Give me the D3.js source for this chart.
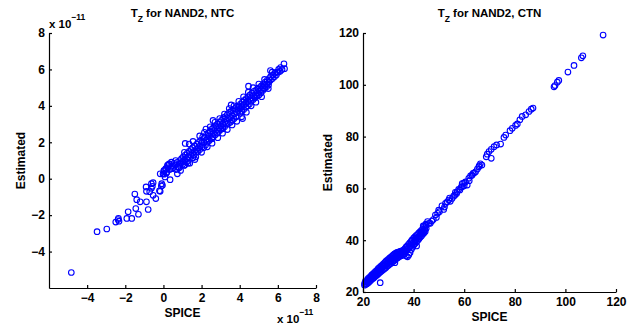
<!DOCTYPE html>
<html>
<head>
<meta charset="utf-8">
<script src="https://cdn.jsdelivr.net/npm/d3@7"></script>
<style>
  body { margin: 0; background: #fff; }
  text { font-family: "Liberation Sans", Arial, sans-serif; font-weight: bold; fill: #000; }
</style>
</head>
<body>
<script>
// values (left panel in units of 1e-11)
const ntcTicks = [-4, -2, 0, 2, 4, 6, 8];
const ctnTicks = [20, 40, 60, 80, 100, 120];

const ntcLow = [
  [-4.83,-5.15],[-3.48,-2.91],[-2.97,-2.76],[-2.50,-2.38],[-2.38,-2.24],[-2.33,-2.33],[-2.36,-2.17],
  [-1.92,-2.18],[-1.85,-1.82],[-1.66,-2.18],[-1.50,-0.84],[-1.45,-1.64],[-1.40,-1.15],[-1.31,-1.95],
  [-1.22,-1.27],[-0.91,-0.45],[-0.89,-1.27],[-0.89,-0.69],[-0.80,-1.69],[-0.63,-0.27],[-0.58,-0.42],
  [-0.63,-0.53],[-0.54,-0.91],[-0.40,-1.09],[-0.17,-0.69],[-0.17,0.27],[-0.09,-0.27],[-0.05,-0.36],
  [-0.02,0.27],[0.02,0.45],[0.12,0.55],[0.21,0.73],[0.35,-0.05],[0.30,0.82],[0.42,0.91],[0.73,0.27],
  [0.79,0.64],[1.08,0.73],[1.29,0.85],[-0.72,-0.71],[-0.54,-0.22],[-0.11,-0.40],[-0.21,-0.66]
];
const ntcBand = [
  [0.03,0.25],[0.05,0.45],[0.08,0.1],[0.12,0.5],[0.15,0.3],[0.22,0.6],[0.18,0.35],[0.24,0.75],
  [0.31,0.8],[0.33,0.5],[0.43,0.7],[0.46,0.55],[0.52,0.6],[0.55,0.85],[0.61,0.75],[0.64,1.0],
  [0.66,0.5],[0.72,0.9],[0.75,0.65],[0.83,0.6],[0.86,1.0],[0.88,0.8],[0.92,0.85],[0.95,1.1],
  [1.01,0.8],[1.04,1.2],[1.02,0.95],[1.12,0.75],[1.15,1.3],[1.11,1.05],[1.14,1.94],[1.22,1.1],
  [1.25,1.4],[1.21,0.9],[1.32,1.2],[1.35,1.5],[1.31,1.0],[1.38,0.85],[1.42,1.3],[1.45,1.6],
  [1.52,1.4],[1.55,1.15],[1.53,1.7],[1.62,1.5],[1.64,1.8],[1.61,1.3],[1.72,1.6],[1.75,1.9],
  [1.71,1.45],[1.82,1.7],[1.84,2.0],[1.81,1.5],[1.92,1.8],[1.95,2.1],[1.91,1.6],[2.02,2.0],
  [2.04,1.75],[2.06,2.3],[2.12,2.0],[2.14,2.25],[2.11,1.7],[2.22,2.1],[2.23,2.73],[2.25,2.4],
  [2.21,1.85],[2.32,2.2],[2.35,2.5],[2.31,2.0],[2.42,2.35],[2.44,2.6],[2.41,2.1],[2.52,2.45],
  [2.54,2.2],[2.56,2.75],[2.62,2.5],[2.64,2.8],[2.61,2.3],[2.72,2.6],[2.75,2.9],[2.71,2.4],
  [2.82,2.7],[2.84,3.0],[2.81,2.5],[2.92,2.8],[2.94,3.1],[2.91,2.6],[3.02,2.9],[3.04,3.2],
  [3.01,2.7],[3.12,3.0],[3.15,3.35],[3.11,2.75],[3.22,3.1],[3.24,3.4],[3.21,2.85],[3.32,3.2],
  [3.34,3.5],[3.31,3.0],[3.42,3.3],[3.46,3.65],[3.41,3.05],[3.52,3.35],[3.54,3.7],[3.51,3.1],
  [3.62,3.45],[3.64,3.75],[3.61,3.2],[3.72,3.56],[3.74,3.85],[3.71,3.3],[3.82,3.65],[3.84,3.95],
  [3.81,3.4],[3.93,3.93],[3.92,3.75],[3.95,4.0],[4.02,3.85],[4.04,4.1],[4.01,3.6],[4.12,3.95],
  [4.14,4.2],[4.11,3.7],[4.22,4.05],[4.24,4.3],[4.21,3.8],[4.33,3.93],[4.32,4.15],[4.34,4.4],
  [4.42,4.25],[4.44,4.5],[4.41,4.0],[4.52,4.35],[4.54,4.6],[4.51,4.1],[4.46,5.08],[4.62,4.45],
  [4.64,4.7],[4.61,4.25],[4.72,4.55],[4.74,4.8],[4.71,4.35],[4.82,4.6],[4.84,4.85],[4.81,4.45],
  [4.92,4.7],[4.94,4.95],[4.91,4.55],[5.02,4.8],[5.04,5.0],[5.01,4.6],[5.12,4.9],[5.14,5.1],
  [5.11,4.7],[5.22,5.0],[5.24,5.2],[5.21,4.85],[5.32,5.1],[5.34,5.3],[5.31,4.95],[5.42,5.2],
  [5.44,5.4],[5.41,5.05],[5.52,5.3],[5.54,5.5],[5.51,5.15],[5.61,5.4],[5.62,5.6],[5.61,5.94],
  [5.72,5.5],[5.74,5.7],[5.82,5.6],[5.84,5.8],[5.92,5.7],[5.94,5.85],[6.02,5.85],[6.04,6.0],
  [6.12,5.9],[6.14,6.1],[6.22,6.0],[6.32,6.31],[6.35,6.04]
];
// the wider scatter around the middle of the band
const ntcSpread = [
  [1.35,1.9],[1.55,2.05],[1.7,1.2],[1.9,2.35],[2.0,1.45],[2.15,2.55],[2.3,1.75],[2.45,2.85],
  [2.55,1.95],[2.7,3.1],[2.85,2.25],[2.95,3.3],[3.1,2.5],[3.2,3.55],[3.35,2.7],[3.45,3.85],
  [3.6,2.95],[3.7,4.0],[3.85,3.15],[3.95,4.25],[4.1,3.4],[4.2,4.5],[4.35,3.65],[4.45,4.75],
  [4.6,4.0],[4.7,5.0],[4.85,4.2],[5.0,5.2],[5.15,4.5],[5.3,5.45],[5.5,4.95],[5.7,5.85],
  [0.9,0.45],[1.1,1.45],[1.65,1.05],[2.6,3.2],[3.55,4.05],[4.15,3.3]
];

const ctnTop = [
  [114.9,119.2],[106.9,111.2],[106.3,110.4],[103.4,107.5],[101.0,104.9],[97.4,101.7],[96.8,101.0],
  [95.9,99.7],[95.5,99.2],[87.2,91.0],[86.5,90.6],[85.6,89.7],[84.3,88.4],[82.9,87.8],[82.0,86.5],
  [81.0,84.9],[80.3,84.3],[79.0,83.2],[78.1,82.3],[76.4,80.6],[75.7,79.7],[74.4,77.1],[72.8,76.8],
  [71.8,76.1],[70.7,75.1],[69.8,74.2],[69.1,73.2],[68.7,72.2],[70.7,71.6]
];
const ctnMid = [
  [66.4,69.5],[65.8,68.4],[64.5,66.4],[63.1,65.1],[61.8,63.9],[61.2,61.3],[59.2,61.9],[59.2,60.6],
  [58.3,59.4],[57.2,58.7],[56.3,57.4],[55.2,56.1],[53.9,55.5],[52.6,54.2],[51.9,51.9],[49.9,51.6],
  [48.6,49.7],[49.0,48.8],[46.6,46.5],[67.0,69.0],[66.0,68.8],[65.2,67.5],[64.0,66.0],[63.5,65.8],
  [62.5,64.8],[62.0,63.0],[60.5,62.5],[60.0,61.0],[59.8,62.0],[58.8,60.5],[57.8,59.6],[57.0,58.0],
  [56.5,58.5],[55.8,57.0],[54.5,55.0],[54.2,56.3],[53.3,54.8],[52.2,52.8],[51.2,53.3],[50.2,51.0],
  [49.5,50.4],[47.8,48.0],[47.2,47.4],[46.0,46.5],[45.5,47.2]
];
const ctnLow = [
  [20.6,23.2],[20.6,22.6],[21.0,23.8],[21.1,22.9],[21.0,24.3],[21.5,24.0],[21.6,23.2],[22.0,24.6],
  [22.1,23.6],[22.0,25.2],[22.5,24.9],[22.6,24.1],[22.5,25.6],[23.0,25.4],[23.1,24.5],[23.0,26.0],
  [23.5,25.8],[23.6,25.0],[23.5,26.6],[24.0,26.3],[24.1,25.3],[24.0,27.0],[24.5,26.8],[24.6,25.8],
  [24.5,27.5],[25.0,27.2],[25.1,26.3],[25.0,28.0],[25.5,27.6],[25.6,26.6],[25.5,28.4],[26.0,28.1],
  [26.1,27.0],[26.0,29.0],[26.5,28.5],[26.6,27.5],[26.5,29.4],[27.0,29.0],[27.1,27.9],[27.0,29.9],
  [26.8,23.6],[27.5,29.4],[27.6,28.3],[27.5,30.3],[28.0,29.8],[28.1,28.7],[28.0,30.8],[28.5,30.3],
  [28.6,29.1],[28.5,31.3],[29.0,30.7],[29.1,29.5],[29.0,31.8],[29.5,31.1],[29.6,30.0],[29.5,32.2],
  [30.0,31.5],[30.1,30.3],[30.0,32.6],[30.5,31.9],[30.6,30.8],[30.5,33.1],[31.0,32.3],[31.1,31.1],
  [31.0,33.5],[31.5,32.7],[31.6,31.6],[31.5,33.9],[32.0,33.1],[32.1,32.0],[32.0,34.3],[32.5,33.4],
  [32.6,32.4],[32.5,34.7],[32.6,31.3],[33.0,33.8],[33.1,32.8],[33.0,35.0],[33.5,34.1],[33.6,33.1],
  [33.5,35.3],[34.0,34.4],[34.1,33.5],[34.0,35.4],[34.5,34.7],[34.6,33.8],[34.5,35.6],[35.0,34.9],
  [35.1,34.0],[35.0,35.8],[35.5,35.1],[35.6,34.2],[35.5,35.9],[36.0,35.4],[36.1,34.5],[36.0,36.2],
  [36.5,35.7],[36.6,34.8],[36.5,36.7],[37.0,36.0],[37.1,33.9],[37.0,37.3],[37.5,36.5],[37.6,33.6],
  [37.5,37.8],[38.0,37.0],[38.1,34.3],[38.0,38.4],[38.5,37.5],[38.6,35.2],[38.5,39.0],[39.0,38.0],
  [39.1,36.4],[39.0,39.6],[39.5,38.6],[39.6,37.3],[39.4,40.1],[40.0,39.2],[40.1,38.1],[40.0,40.8],
  [40.7,40.1],[40.5,39.8],[40.6,38.7],[40.5,41.3],[41.0,40.4],[41.1,39.3],[41.0,41.8],[41.2,37.8],
  [41.5,40.9],[41.6,39.9],[41.5,42.2],[42.0,41.4],[42.1,40.5],[42.0,42.7],[42.5,41.9],[42.6,41.1],
  [42.5,43.2],[43.0,42.4],[43.1,41.6],[43.0,43.7],[43.4,43.3],[43.5,42.9],[43.6,42.3],[43.5,44.2],
  [44.0,43.5],[44.1,42.8],[44.0,45.2],[44.5,44.0],[44.6,43.4],[44.5,44.8],[45.0,44.6],[45.0,45.8],
  [43.8,45.5],[44.8,46.2]
];

const panels = [
  { title: " for NAND2, NTC", data: ntcLow.concat(ntcBand, ntcSpread), dom: [-6, 8], ticks: ntcTicks,
    x0: 49, x1: 316, y0: 288, y1: 33, exp: true, ylabX: 25 },
  { title: " for NAND2, CTN", data: ctnLow.concat(ctnMid, ctnTop), dom: [20, 120], ticks: ctnTicks,
    x0: 363, x1: 616, y0: 292, y1: 33, exp: false, ylabX: 332 }
];

const svg = d3.select("body").append("svg")
  .attr("width", 641)
  .attr("height", 325);

panels.forEach(p => {
  const x = d3.scaleLinear().domain(p.dom).range([p.x0, p.x1]);
  const y = d3.scaleLinear().domain(p.dom).range([p.y0, p.y1]);
  const g = svg.append("g");

  g.selectAll("circle")
    .data(p.data)
    .join("circle")
      .attr("cx", d => x(d[0]))
      .attr("cy", d => y(d[1]))
      .attr("r", 2.8)
      .attr("fill", "none")
      .attr("stroke", "#0000ff")
      .attr("stroke-width", 1.1);

  const xa = g.append("g")
    .attr("transform", `translate(0,${p.y0})`)
    .call(d3.axisBottom(x).tickValues(p.ticks).tickSize(-3).tickSizeOuter(0).tickPadding(5.5));
  const ya = g.append("g")
    .attr("transform", `translate(${p.x0},0)`)
    .call(d3.axisLeft(y).tickValues(p.ticks).tickSize(-3).tickSizeOuter(0).tickPadding(4));
  [xa, ya].forEach(a => {
    a.attr("font-size", 12).attr("font-family", null);
    a.selectAll("path, line").attr("stroke", "#000").attr("stroke-width", 1.2);
  });

  // title with subscript Z
  const t = g.append("text")
    .attr("x", (p.x0 + p.x1) / 2)
    .attr("y", 16.5)
    .attr("text-anchor", "middle")
    .attr("font-size", 11.5);
  t.append("tspan").text("T");
  t.append("tspan").attr("dy", 5).attr("font-size", 8.5).text("Z");
  t.append("tspan").attr("dy", -5).text(p.title);

  g.append("text")
    .attr("x", (p.x0 + p.x1) / 2)
    .attr("y", p.y0 + 29)
    .attr("text-anchor", "middle")
    .attr("font-size", 12)
    .text("SPICE");

  g.append("text")
    .attr("transform", `translate(${p.ylabX},${(p.y0 + p.y1) / 2}) rotate(-90)`)
    .attr("text-anchor", "middle")
    .attr("font-size", 12)
    .text("Estimated");

  if (p.exp) {
    const e1 = g.append("text").attr("x", p.x0).attr("y", 28).attr("font-size", 11.5);
    e1.append("tspan").text("x 10");
    e1.append("tspan").attr("dy", -8).attr("font-size", 8.5).text("\u221211");
    const e2 = g.append("text").attr("x", 277).attr("y", 323).attr("font-size", 11.5);
    e2.append("tspan").text("x 10");
    e2.append("tspan").attr("dy", -8).attr("font-size", 8.5).text("\u221211");
  }
});
</script>
</body>
</html>
